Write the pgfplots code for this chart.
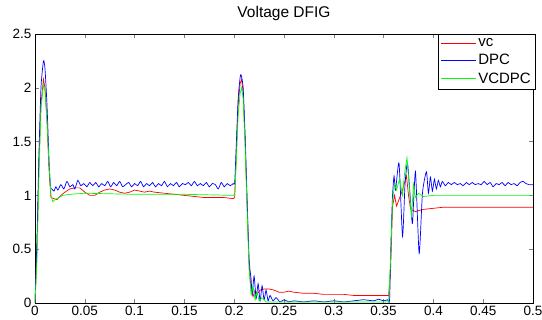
\documentclass[border=0pt]{standalone}
\usepackage{pgfplots}
\pgfplotsset{compat=1.18}
\usepackage{fontspec}
\setmainfont{Liberation Sans}
\begin{document}
\begin{tikzpicture}
\begin{axis}[
  scale only axis, width=498pt, height=269pt,
  axis line style={line width=0.8pt},
  xmin=0, xmax=0.5, ymin=0, ymax=2.5,
  xtick={0,0.05,...,0.5}, ytick={0,0.5,...,2.5},
  tick align=inside, major tick length=4pt,
  xticklabel style={/pgf/number format/fixed,/pgf/number format/precision=2},
  yticklabel style={/pgf/number format/fixed,/pgf/number format/precision=1},
  /pgf/number format/assume math mode=true,
  tick label style={font=\fontsize{13.5}{14}\selectfont},
  title={Voltage DFIG}, title style={font=\fontsize{15.5}{16}\selectfont, at={(0.5,1)}, anchor=base, yshift=10pt},
  legend style={at={(1,1)}, anchor=north east, xshift=2pt, font=\fontsize{15}{16}\selectfont,
    draw=black, inner xsep=2pt, inner ysep=2pt, row sep=2.5pt, cells={anchor=west}},
  legend image code/.code={\draw[mark repeat=2,mark phase=2,#1] plot coordinates {(0pt,0pt) (17pt,0pt) (35pt,0pt)};},
  every axis plot/.append style={line width=0.7pt},
]
\addplot[red] coordinates {
(0,0)(0.002,0.5)(0.004,1.3)(0.006,1.85)(0.0085,2.08)(0.010,2.0)(0.012,1.7)(0.014,1.25)(0.016,0.98)(0.019,0.97)(0.022,0.96)(0.026,1.0)(0.030,1.03)(0.035,1.06)(0.040,1.07)(0.045,1.07)(0.050,1.03)(0.055,1.0)(0.060,1.0)(0.065,1.03)(0.070,1.05)(0.075,1.06)(0.080,1.05)(0.085,1.03)(0.090,1.02)(0.095,1.03)(0.100,1.05)(0.105,1.04)(0.110,1.03)(0.115,1.04)(0.120,1.03)(0.130,1.02)(0.140,1.01)(0.150,1.0)(0.160,0.99)(0.170,0.98)(0.180,0.98)(0.190,0.98)(0.199,0.97)(0.2005,0.98)(0.202,1.35)(0.204,1.85)(0.206,2.04)(0.2075,2.08)(0.209,1.95)(0.211,1.5)(0.213,0.9)(0.215,0.35)(0.217,0.12)(0.219,0.06)(0.221,0.12)(0.223,0.08)(0.226,0.12)(0.230,0.13)(0.235,0.13)(0.240,0.12)(0.245,0.10)(0.250,0.10)(0.255,0.11)(0.260,0.10)(0.270,0.09)(0.280,0.09)(0.290,0.08)(0.300,0.08)(0.310,0.08)(0.320,0.07)(0.330,0.07)(0.340,0.07)(0.350,0.07)(0.355,0.07)(0.357,0.3)(0.359,0.9)(0.361,1.0)(0.363,0.90)(0.365,0.95)(0.367,1.0)(0.369,1.05)(0.371,1.12)(0.373,1.18)(0.375,1.0)(0.377,0.88)(0.379,0.86)(0.382,0.85)(0.386,0.86)(0.390,0.87)(0.400,0.88)(0.410,0.89)(0.500,0.89)
};
\addlegendentry{vc}
\addplot[blue, smooth, tension=0.35] coordinates {
(0,0)(0.002,0.6)(0.004,1.4)(0.006,2.0)(0.0085,2.25)(0.010,2.18)(0.012,1.85)(0.014,1.35)(0.0155,1.08)(0.017,1.06)(0.019,1.04)(0.021,1.08)(0.023,1.05)(0.026,1.10)(0.029,1.06)(0.032,1.13)(0.035,1.08)(0.038,1.10)(0.040,1.06)(0.043,1.14)(0.046,1.09)(0.049,1.11)(0.052,1.08)(0.055,1.12)(0.058,1.09)(0.061,1.12)(0.064,1.08)(0.067,1.11)(0.070,1.09)(0.073,1.13)(0.076,1.08)(0.079,1.12)(0.082,1.09)(0.085,1.13)(0.088,1.08)(0.091,1.10)(0.094,1.12)(0.097,1.08)(0.100,1.11)(0.103,1.09)(0.106,1.13)(0.109,1.08)(0.112,1.11)(0.115,1.09)(0.118,1.12)(0.121,1.08)(0.124,1.11)(0.127,1.09)(0.130,1.13)(0.133,1.08)(0.136,1.11)(0.139,1.09)(0.142,1.12)(0.145,1.08)(0.148,1.11)(0.151,1.10)(0.154,1.12)(0.157,1.09)(0.160,1.13)(0.163,1.09)(0.166,1.11)(0.169,1.09)(0.172,1.12)(0.175,1.08)(0.178,1.11)(0.181,1.10)(0.184,1.06)(0.187,1.12)(0.190,1.08)(0.193,1.11)(0.196,1.09)(0.199,1.11)(0.2005,1.12)(0.202,1.45)(0.204,1.9)(0.206,2.1)(0.207,2.12)(0.209,2.0)(0.211,1.55)(0.213,0.95)(0.215,0.40)(0.217,0.22)(0.218,0.08)(0.220,0.25)(0.222,0.04)(0.224,0.18)(0.226,0.02)(0.228,0.16)(0.230,0.03)(0.232,0.12)(0.234,0.02)(0.236,0.07)(0.239,0.02)(0.242,0.05)(0.246,0.01)(0.250,0.03)(0.255,0.01)(0.26,0.02)(0.27,0.01)(0.28,0.02)(0.29,0.01)(0.30,0.02)(0.31,0.01)(0.32,0.02)(0.33,0.03)(0.34,0.02)(0.345,0.035)(0.35,0.02)(0.354,0.03)(0.356,0.03)(0.3575,0.6)(0.359,1.0)(0.3605,1.18)(0.362,1.05)(0.3655,1.30)(0.369,0.62)(0.3715,1.10)(0.374,1.30)(0.377,0.95)(0.379,0.74)(0.382,1.22)(0.3857,0.46)(0.389,1.02)(0.393,1.22)(0.395,1.02)(0.397,1.17)(0.399,1.04)(0.401,1.15)(0.403,1.06)(0.405,1.14)(0.407,1.08)(0.409,1.13)(0.412,1.09)(0.415,1.12)(0.418,1.10)(0.421,1.12)(0.424,1.10)(0.427,1.11)(0.430,1.09)(0.433,1.12)(0.436,1.10)(0.439,1.12)(0.442,1.10)(0.445,1.11)(0.448,1.10)(0.451,1.13)(0.454,1.10)(0.457,1.12)(0.460,1.08)(0.463,1.11)(0.466,1.10)(0.469,1.12)(0.472,1.09)(0.475,1.12)(0.478,1.10)(0.481,1.11)(0.484,1.09)(0.487,1.12)(0.490,1.13)(0.493,1.11)(0.496,1.10)(0.5,1.10)
};
\addlegendentry{DPC}
\addplot[green] coordinates {
(0,0)(0.002,0.4)(0.004,1.2)(0.006,1.8)(0.0085,2.03)(0.010,1.97)(0.012,1.7)(0.014,1.3)(0.016,1.0)(0.018,0.94)(0.020,0.96)(0.024,0.98)(0.028,1.0)(0.035,1.01)(0.05,1.02)(0.1,1.01)(0.15,1.01)(0.199,1.0)(0.2005,1.01)(0.202,1.3)(0.204,1.75)(0.206,1.95)(0.2075,2.0)(0.209,1.9)(0.211,1.45)(0.213,0.85)(0.215,0.3)(0.217,0.08)(0.219,0.15)(0.221,0.03)(0.223,0.1)(0.225,0.02)(0.228,0.05)(0.232,0.01)(0.24,0.01)(0.3,0.01)(0.355,0.01)(0.357,0.4)(0.359,0.95)(0.361,1.1)(0.363,1.05)(0.366,1.15)(0.369,1.0)(0.371,1.2)(0.3735,1.35)(0.376,1.05)(0.378,0.8)(0.380,1.1)(0.382,0.98)(0.385,1.02)(0.39,0.99)(0.40,1.0)(0.5,1.0)
};
\addlegendentry{VCDPC}
\end{axis}
\pgfresetboundingbox
\path[use as bounding box] (-35pt,-17pt) rectangle (507pt,303pt);
\end{tikzpicture}
\end{document}
